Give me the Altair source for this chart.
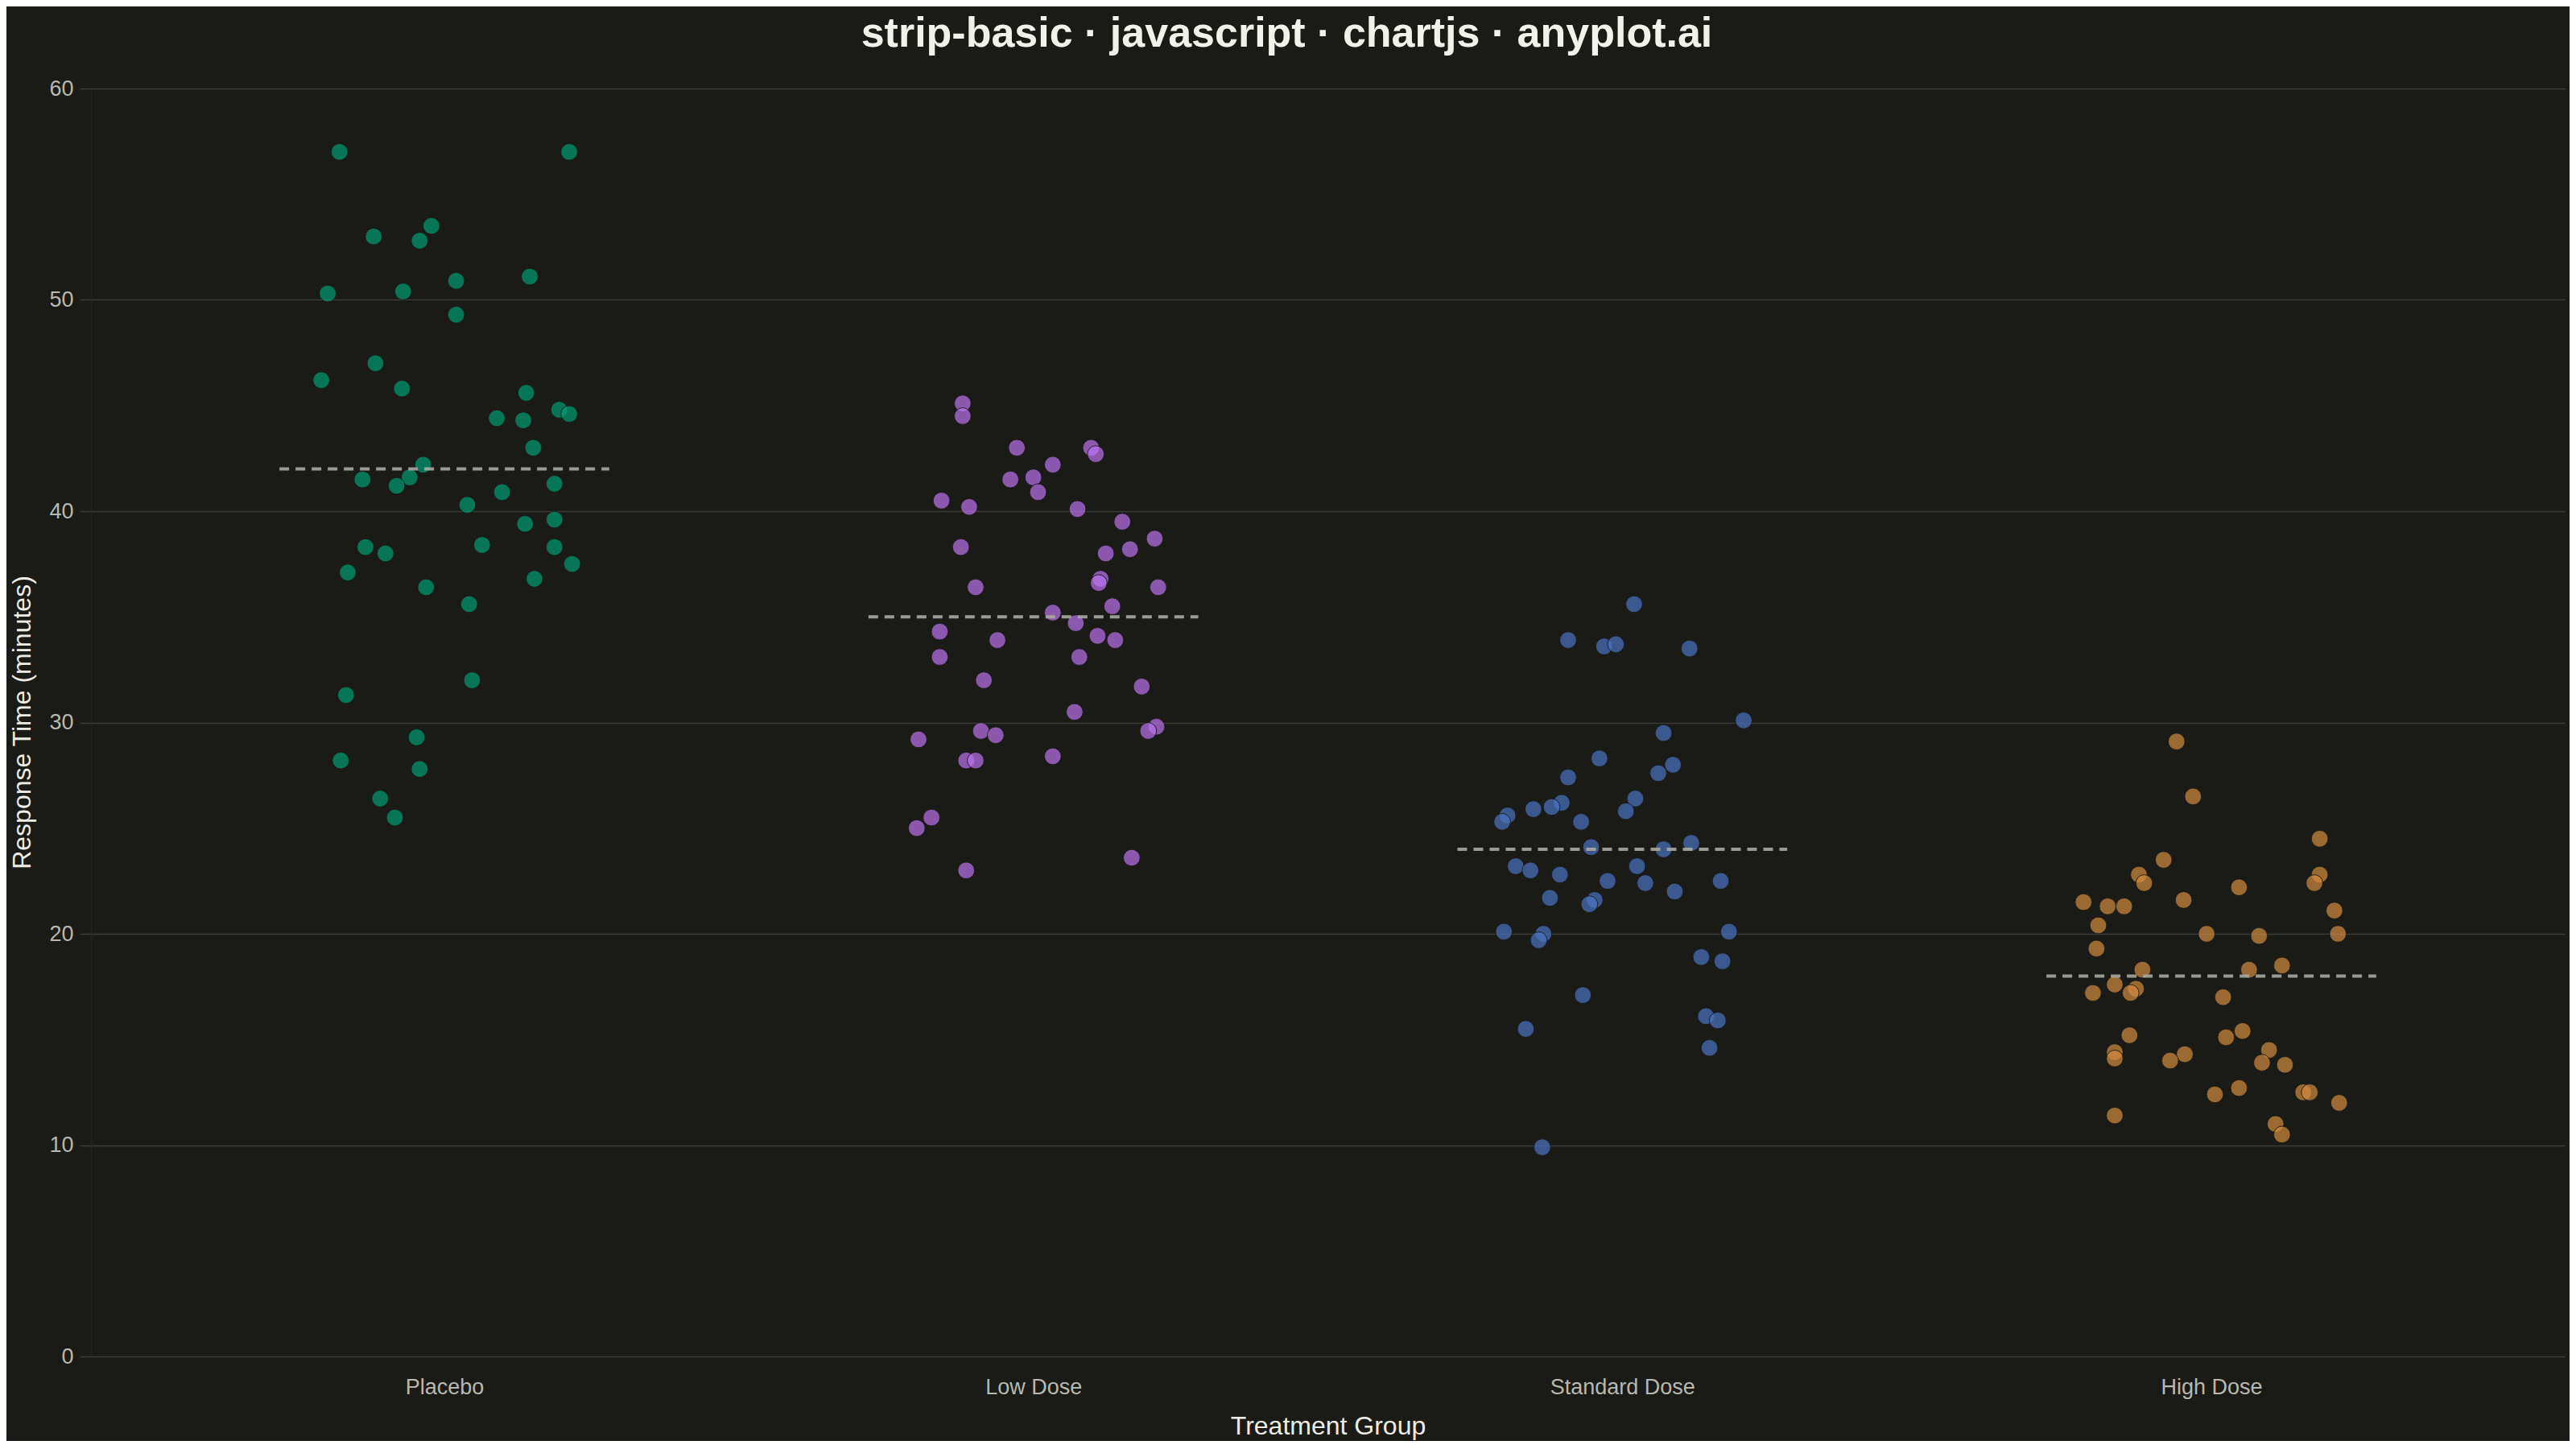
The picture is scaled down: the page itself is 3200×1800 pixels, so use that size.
import altair as alt
import pandas as pd

groups = ["Placebo", "Low Dose", "Standard Dose", "High Dose"]
colors = ["#009E73", "#BC74F0", "#4A75C2", "#D38C3E"]
means = [42.0, 35.0, 24.0, 18.0]

placebo_vals = [57.0, 57.0, 53.5, 53.0, 52.8, 51.1, 50.9, 50.3, 50.4, 49.3, 47.0, 46.2, 45.8, 45.6, 44.8,
                44.6, 44.4, 44.3, 43.0, 42.2, 41.6, 41.5, 41.2, 41.3, 40.9, 40.3, 39.6, 39.4, 38.3, 38.4,
                38.3, 38.0, 37.5, 37.1, 36.8, 36.4, 35.6, 32.0, 31.3, 29.3, 28.2, 27.8, 26.4, 25.5]
placebo_jit = [-0.178, 0.212, -0.022, -0.12, -0.042, 0.145, 0.02, -0.198, -0.07, 0.02, -0.117, -0.209, -0.072,
               0.139, 0.195, 0.212, 0.089, 0.134, 0.151, -0.036, -0.059, -0.139, -0.081, 0.187, 0.098, 0.039,
               0.187, 0.137, -0.134, 0.064, 0.187, -0.1, 0.217, -0.164, 0.153, -0.031, 0.042, 0.047, -0.167,
               -0.047, -0.176, -0.042, -0.109, -0.084]

low_vals = [45.1, 44.5, 43.0, 43.0, 42.7, 42.2, 41.5, 41.6, 40.9, 40.5, 40.2, 40.1, 39.5, 38.7, 38.2, 38.0,
            38.3, 36.8, 36.6, 36.4, 36.4, 35.5, 35.2, 34.7, 34.3, 34.1, 33.9, 33.9, 33.1, 33.1, 32.0, 31.7,
            30.5, 29.8, 29.6, 29.6, 29.4, 29.2, 28.2, 28.2, 28.4, 25.5, 25.0, 23.6, 23.0]
low_jit = [-0.12, -0.12, -0.028, 0.098, 0.106, 0.033, -0.039, 0.0, 0.008, -0.156, -0.109, 0.075, 0.151, 0.206,
           0.164, 0.123, -0.123, 0.114, 0.111, 0.212, -0.098, 0.134, 0.033, 0.072, -0.159, 0.109, -0.061, 0.139,
           -0.159, 0.078, -0.084, 0.184, 0.07, 0.209, 0.195, -0.089, -0.064, -0.195, -0.114, -0.098, 0.033,
           -0.173, -0.198, 0.167, -0.114]

std_vals = [35.6, 33.9, 33.6, 33.7, 33.5, 30.1, 29.5, 28.3, 28.0, 27.6, 27.4, 26.4, 26.2, 26.0, 25.9, 25.8,
            25.6, 25.3, 25.3, 24.3, 24.1, 24.0, 23.2, 23.2, 23.0, 22.8, 22.5, 22.5, 22.4, 22.0, 21.7, 21.6,
            21.4, 20.1, 20.1, 20.0, 19.7, 18.9, 18.7, 17.1, 16.1, 15.9, 15.5, 14.6, 9.9]
std_jit = [0.02, -0.092, -0.031, -0.011, 0.114, 0.206, 0.07, -0.039, 0.086, 0.061, -0.092, 0.022, -0.103, -0.12,
           -0.151, 0.006, -0.195, -0.204, -0.07, 0.117, -0.053, 0.07, 0.025, -0.181, -0.156, -0.106, -0.025,
           0.167, 0.039, 0.089, -0.123, -0.047, -0.056, -0.201, 0.181, -0.134, -0.142, 0.134, 0.17, -0.067,
           0.142, 0.162, -0.164, 0.148, -0.136]

high_vals = [29.1, 26.5, 24.5, 23.5, 22.8, 22.8, 22.4, 22.4, 22.2, 21.5, 21.6, 21.3, 21.3, 21.1, 20.4, 20.0,
             19.9, 20.0, 19.3, 18.3, 18.3, 18.5, 17.6, 17.4, 17.2, 17.2, 17.0, 15.4, 15.2, 15.1, 14.5, 14.4,
             14.1, 14.3, 14.0, 13.9, 13.8, 12.7, 12.4, 12.5, 12.5, 12.0, 11.4, 11.0, 10.5]
high_jit = [-0.059, -0.031, 0.184, -0.081, -0.123, 0.184, -0.114, 0.175, 0.047, -0.217, -0.047, -0.176, -0.148,
            0.209, -0.192, -0.008, 0.081, 0.215, -0.195, -0.117, 0.064, 0.12, -0.164, -0.128, -0.137, -0.201,
            0.02, 0.053, -0.139, 0.025, 0.098, -0.164, -0.164, -0.045, -0.07, 0.086, 0.125, 0.047, 0.006,
            0.156, 0.167, 0.217, -0.164, 0.109, 0.12]

all_vals = [placebo_vals, low_vals, std_vals, high_vals]
all_jit = [placebo_jit, low_jit, std_jit, high_jit]

rows = []
for gi, (vals, jits) in enumerate(zip(all_vals, all_jit)):
    for v, j in zip(vals, jits):
        rows.append({"group": groups[gi], "xpos": gi + j, "value": v})
points = pd.DataFrame(rows)

mean_df = pd.DataFrame({
    "group": groups,
    "x1": [i - 0.28 for i in range(4)],
    "x2": [i + 0.28 for i in range(4)],
    "mean": means,
})

label_expr = "['Placebo','Low Dose','Standard Dose','High Dose'][datum.value]"
FONT = "Liberation Sans"

x_enc = alt.X(
    "xpos:Q",
    scale=alt.Scale(domain=[-0.6, 3.6], nice=False, zero=False),
    axis=alt.Axis(
        values=[0, 1, 2, 3], labelExpr=label_expr, title="Treatment Group",
        grid=False, ticks=False, domain=False, labelPadding=25, labelLimit=0,
        labelFontSize=27, labelColor="#b8b8b0", labelFont=FONT,
        titleFontSize=32, titleColor="#ecebe4", titleFont=FONT, titleFontWeight="normal",
        titleBaseline="alphabetic", titleY=96,
    ),
)
y_enc = alt.Y(
    "value:Q",
    scale=alt.Scale(domain=[0, 60], nice=False),
    axis=alt.Axis(
        values=[0, 10, 20, 30, 40, 50, 60], title="Response Time (minutes)",
        grid=True, gridColor="#3b3b37", gridWidth=1.5,
        tickSize=14, tickColor="#3b3b37", tickWidth=1.5, labelPadding=8,
        domain=True, domainColor="#262623", domainWidth=1,
        labelFontSize=27, labelColor="#b8b8b0", labelFont=FONT,
        titleFontSize=32, titleColor="#ecebe4", titleFont=FONT, titleFontWeight="normal",
        titleX=-86, titleY=787, titleBaseline="middle", titleAngle=270,
    ),
)

pts = alt.Chart(points).mark_circle(
    size=430, fillOpacity=0.7, stroke="#1a1a17", strokeWidth=1, strokeOpacity=0.9
).encode(
    x=x_enc,
    y=y_enc,
    color=alt.Color("group:N", scale=alt.Scale(domain=groups, range=colors), legend=None),
)

rules = alt.Chart(mean_df).mark_rule(
    color="#a8a8a2", strokeWidth=4, strokeDash=[12, 8], opacity=0.9
).encode(
    x=alt.X("x1:Q"),
    x2="x2:Q",
    y=alt.Y("mean:Q"),
)

chart = alt.layer(pts, rules).properties(
    width=3073,
    height=1575,
    background="#1a1a17",
    padding={"left": 105, "top": 102, "right": 6, "bottom": 105},
    autosize=alt.AutoSizeParams(type="none"),
    title=alt.TitleParams(
        "strip-basic · javascript · chartjs · anyplot.ai",
        fontSize=52, fontWeight="bold", color="#f2f1ea", font=FONT,
        anchor="middle", frame="bounds", baseline="alphabetic", offset=-14,
    ),
).configure_view(stroke=None)

chart.save("out.html", embed_options={"renderer": "svg", "actions": False})
